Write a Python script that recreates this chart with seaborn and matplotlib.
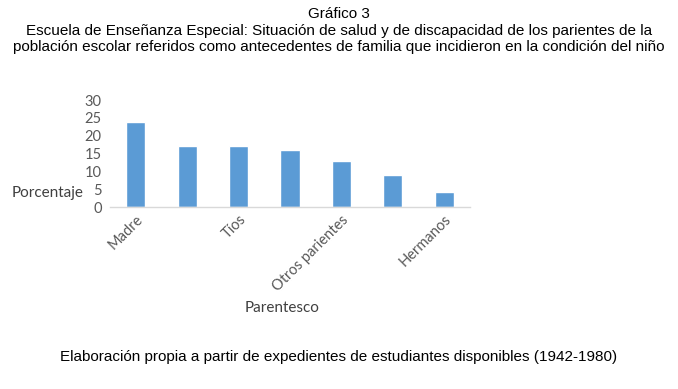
import matplotlib
matplotlib.use("Agg")
import matplotlib.pyplot as plt
import seaborn as sns
import pandas as pd

# Parentesco y porcentaje (solo se rotulan algunas categorías en el original)
parentesco = ["Madre", "Padre", "Tíos", "Abuelos", "Otros parientes", "Primos", "Hermanos"]
porcentaje = [23.9, 17.1, 17.1, 16.0, 12.9, 9.0, 4.3]
etiquetas_visibles = ["Madre", "", "Tíos", "", "Otros parientes", "", "Hermanos"]

df = pd.DataFrame({"parentesco": parentesco, "porcentaje": porcentaje})

sns.set_style("white")
plt.rcParams["font.family"] = ["Lato", "DejaVu Sans"]

fig = plt.figure(figsize=(6.78, 3.89), dpi=100)
ax = fig.add_axes([110 / 678, 1 - 207 / 389, 360 / 678, 107 / 389])

sns.barplot(data=df, x="parentesco", y="porcentaje", color="#5B9BD5", width=0.37,
            saturation=1, ax=ax)

ax.set_ylim(0, 30)
ax.set_xlim(-0.5, 6.5)
ax.set_yticks([0, 5, 10, 15, 20, 25, 30])
ax.set_xticks(range(len(parentesco)))
ax.set_xticklabels(etiquetas_visibles, rotation=45, ha="right", rotation_mode="anchor")
ax.tick_params(axis="both", length=0, labelsize=10.5, colors="#595959", pad=4)
ax.tick_params(axis="y", pad=6)

for s in ["top", "right", "left"]:
    ax.spines[s].set_visible(False)
ax.spines["bottom"].set_color("#D9D9D9")
ax.spines["bottom"].set_linewidth(1)
ax.set_xlabel("")
ax.set_ylabel("")

fig.text(12 / 678, 1 - 193 / 389, "Porcentaje", fontsize=11, color="#404040", va="center", ha="left")
fig.text(282 / 678, 1 - 308 / 389, "Parentesco", fontsize=11, color="#404040", va="center", ha="center")

titulo = ("Gráfico 3\n"
          "Escuela de Enseñanza Especial: Situación de salud y de discapacidad de los parientes de la\n"
          "población escolar referidos como antecedentes de familia que incidieron en la condición del niño")
fig.text(0.5, 1 - 7 / 389, titulo, fontsize=11, family="Liberation Sans", ha="center", va="top",
         linespacing=1.25, color="black")
fig.text(339 / 678, 1 - 357 / 389,
         "Elaboración propia a partir de expedientes de estudiantes disponibles (1942-1980)",
         fontsize=11, family="Liberation Sans", ha="center", va="center", color="black")

fig.savefig("out.png", dpi=100)
